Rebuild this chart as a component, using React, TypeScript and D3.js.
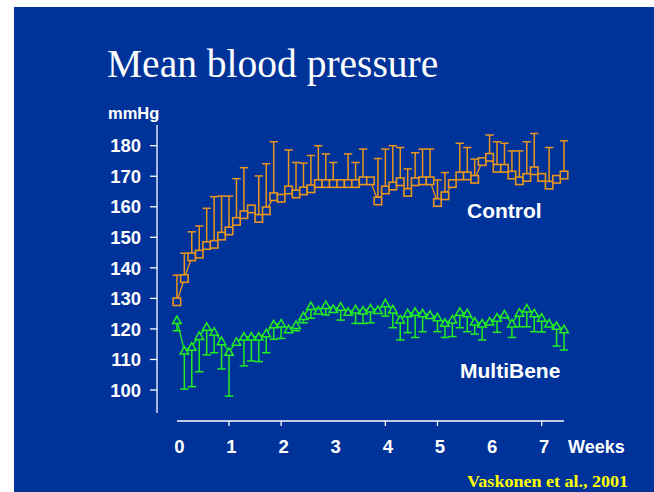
import React from "react";
import * as d3 from "d3";

const controlMean = [128.9,136.5,143.6,144.5,147.3,147.7,150.4,152.1,155.2,157.4,159.3,156.2,158.7,163.3,162.8,165.5,164.2,165.2,165.9,167.6,167.6,167.6,167.6,167.6,167.6,168.5,168.5,161.9,165.5,166.8,168.2,164.7,168.2,168.5,168.5,161.4,163.6,167.6,170.1,170.1,169.0,174.8,176.2,172.6,172.6,170.4,168.5,169.6,171.8,169.6,167.1,169.0,170.4];
const controlUpper = [137.6,144.8,151.8,153.7,159.5,163.3,163.5,163.5,169.2,172.8,0,170.1,174.1,181.3,0,178.6,174.5,174.3,176.8,180.0,177.3,174.5,0,177.3,174.5,178.9,0,175.8,178.9,180.0,179.4,172.4,177.7,178.9,178.9,168.8,171.2,0,180.8,179.4,175.6,0,183.5,181.3,180.8,178.3,178.3,181.3,184.0,0,179.4,0,181.6];
const multiMean = [122.9,112.9,114.2,117.7,120.7,119.1,116.0,112.5,115.8,117.5,117.5,117.5,118.6,121.5,121.8,119.9,121.3,124.2,127.5,126.0,127.8,126.5,127.3,125.6,126.4,126.0,126.7,126.2,128.4,126.4,123.1,125.1,125.6,125.1,124.6,123.8,122.0,123.1,125.6,125.1,122.4,121.8,122.4,123.7,124.8,121.8,125.3,126.7,125.1,123.7,121.8,121.0,119.9];
const multiLower = [119.4,100.3,101.1,106.0,111.5,112.2,106.9,98.0,0,107.9,109.5,109.3,112.2,116.6,116.9,0,119.4,122.0,123.5,0,124.6,0,122.9,0,121.8,121.8,122.0,0,124.2,120.4,116.4,118.8,117.2,119.1,0,119.1,117.2,117.5,120.4,119.1,118.3,116.4,0,118.9,0,117.2,120.7,120.7,119.1,119.0,0,114.4,113.1];
const yTicks = [100,110,120,130,140,150,160,170,180];
const xTickWeeks = [1,2,4,5,7];
const xLabels = [0,1,2,3,4,5,6,7];

const BG = "#003399";
const ORANGE = "#e8961e";
const GREEN = "#22ee22";

export default function App() {
  const x = d3.scaleLinear().domain([0, 7]).range([176.9, 541.7]);
  const y = d3.scaleLinear().domain([100, 180]).range([390, 145.7]);
  const dx = (d: number) => x(d / 7);
  const line = d3.line<number>().x((_, i) => dx(i)).y((v) => y(v));
  const cap = 4.2;
  const sq = 7.5;
  const tri = (cx: number, cy: number) => {
    const h = 7, w = 8.5;
    return `M${cx},${cy - h / 2 - 0.5}L${cx + w / 2},${cy + h / 2}L${cx - w / 2},${cy + h / 2}Z`;
  };
  return (
    <svg width={654} height={492} style={{ position: "absolute", left: 0, top: 0, background: "#fff" }}>
      <rect x={14} y={7} width={640} height={485} fill={BG} />
      <text x={107} y={77} fill="#fff" fontFamily="'Liberation Serif', serif" fontSize={39.5}>Mean blood pressure</text>
      {/* y axis */}
      <line x1={157} x2={157} y1={125} y2={413} stroke="#fff" strokeWidth={1.3} />
      {yTicks.map((t) => (
        <g key={t}>
          <line x1={150} x2={157} y1={y(t)} y2={y(t)} stroke="#fff" strokeWidth={1.3} />
          <text x={141} y={y(t)} dy="0.36em" textAnchor="end" fill="#fff" fontFamily="'Liberation Sans', Arial, sans-serif" fontWeight="bold" fontSize={18.5}>{t}</text>
        </g>
      ))}
      <text x={108} y={119} fill="#fff" fontFamily="'Liberation Sans', Arial, sans-serif" fontWeight="bold" fontSize={16.5}>mmHg</text>
      {/* x axis */}
      <line x1={177} x2={564} y1={421} y2={421} stroke="#fff" strokeWidth={1.3} />
      {xTickWeeks.map((w) => (
        <line key={w} x1={x(w)} x2={x(w)} y1={421} y2={426} stroke="#fff" strokeWidth={1.3} />
      ))}
      {xLabels.map((w) => (
        <text key={w} x={x(w) + 2.5} y={453} textAnchor="middle" fill="#fff" fontFamily="'Liberation Sans', Arial, sans-serif" fontWeight="bold" fontSize={18.5}>{w}</text>
      ))}
      <text x={568} y={453} fill="#fff" fontFamily="'Liberation Sans', Arial, sans-serif" fontWeight="bold" fontSize={18}>Weeks</text>
      {/* control */}
      {controlUpper.map((u, i) => u > 0 ? (
        <g key={"cu" + i}>
          <line x1={dx(i)} x2={dx(i)} y1={y(controlMean[i])} y2={y(u)} stroke={ORANGE} strokeWidth={1.5} />
          <line x1={dx(i) - cap} x2={dx(i) + cap} y1={y(u)} y2={y(u)} stroke={ORANGE} strokeWidth={1.5} />
        </g>
      ) : null)}
      <path d={line(controlMean) || ""} fill="none" stroke={ORANGE} strokeWidth={1.3} />
      {controlMean.map((v, i) => (
        <rect key={"cm" + i} x={dx(i) - sq / 2} y={y(v) - sq / 2} width={sq} height={sq} fill={BG} stroke={ORANGE} strokeWidth={1.6} />
      ))}
      {/* multibene */}
      {multiLower.map((l, i) => l > 0 ? (
        <g key={"ml" + i}>
          <line x1={dx(i)} x2={dx(i)} y1={y(multiMean[i])} y2={y(l)} stroke={GREEN} strokeWidth={1.5} />
          <line x1={dx(i) - cap} x2={dx(i) + cap} y1={y(l)} y2={y(l)} stroke={GREEN} strokeWidth={1.5} />
        </g>
      ) : null)}
      <path d={line(multiMean) || ""} fill="none" stroke={GREEN} strokeWidth={1.3} />
      {multiMean.map((v, i) => (
        <path key={"mm" + i} d={tri(dx(i), y(v))} fill={BG} stroke={GREEN} strokeWidth={1.5} />
      ))}
      <text x={467} y={218} fill="#fff" fontFamily="'Liberation Sans', Arial, sans-serif" fontWeight="bold" fontSize={21}>Control</text>
      <text x={460} y={378} fill="#fff" fontFamily="'Liberation Sans', Arial, sans-serif" fontWeight="bold" fontSize={21}>MultiBene</text>
      <text x={467} y={487} fill="#ffff00" fontFamily="'Liberation Serif', serif" fontWeight="bold" fontSize={17} textLength={161} lengthAdjust="spacingAndGlyphs">Vaskonen et al., 2001</text>
    </svg>
  );
}
